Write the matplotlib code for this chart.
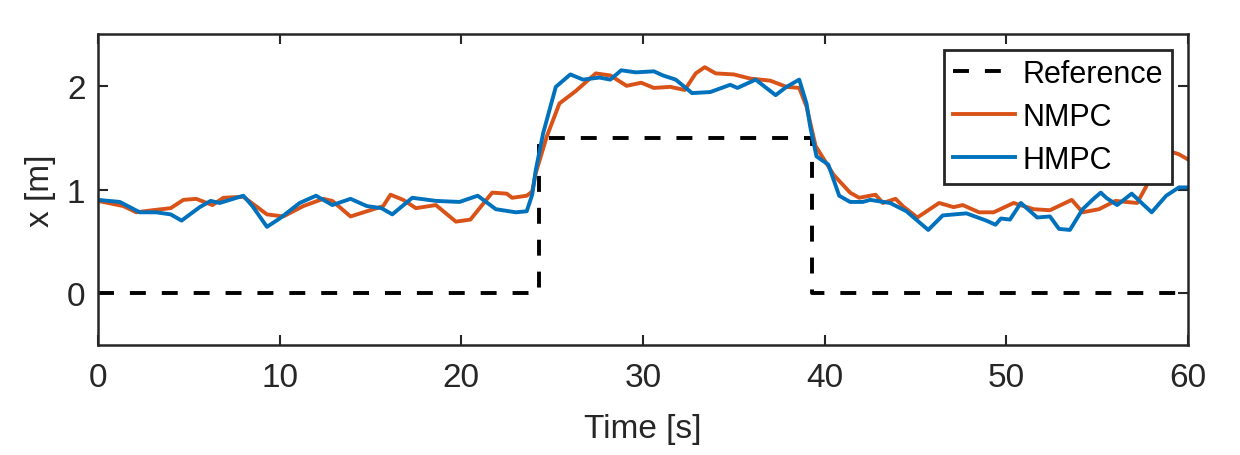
import matplotlib
matplotlib.use("Agg")
import matplotlib.pyplot as plt

# Reference step signal
ref_t = [0, 24.3, 39.3, 60]
ref_x = [0, 1.5, 0, 0]

# NMPC trajectory
nmpc_t = [0, 1.4, 2.1, 3.0, 4.0, 4.7, 5.4, 6.3, 6.9, 8.0, 9.3, 10.2, 11.3, 12.4, 12.9,
          13.9, 14.8, 15.7, 16.1, 16.8, 17.5, 18.6, 19.7, 20.5, 21.7, 22.5, 22.8, 23.6,
          23.9, 24.1, 24.7, 25.4, 26.3, 27.4, 28.2, 29.1, 29.9, 30.6, 31.5, 32.3, 32.9,
          33.4, 34.0, 35.0, 35.9, 37.0, 37.9, 38.6, 39.0, 39.5, 40.0, 40.5, 41.4, 41.9,
          42.8, 43.2, 43.9, 44.3, 45.1, 46.3, 47.1, 47.6, 48.5, 49.3, 50.4, 51.5, 52.4,
          53.6, 54.2, 55.1, 56.0, 57.2, 57.7, 58.3, 58.8, 59.5, 60]
nmpc_x = [0.89, 0.84, 0.78, 0.80, 0.82, 0.90, 0.91, 0.85, 0.92, 0.93, 0.76, 0.74, 0.84,
          0.91, 0.89, 0.74, 0.79, 0.84, 0.95, 0.90, 0.82, 0.85, 0.69, 0.71, 0.97, 0.96,
          0.92, 0.94, 0.98, 1.16, 1.51, 1.83, 1.95, 2.12, 2.10, 2.00, 2.03, 1.98, 1.99,
          1.96, 2.12, 2.18, 2.12, 2.11, 2.07, 2.05, 1.99, 1.98, 1.80, 1.42, 1.28, 1.14,
          0.97, 0.92, 0.95, 0.87, 0.91, 0.84, 0.73, 0.87, 0.83, 0.85, 0.78, 0.78, 0.87,
          0.81, 0.80, 0.90, 0.78, 0.81, 0.89, 0.87, 1.03, 1.29, 1.38, 1.34, 1.29]

# HMPC trajectory
hmpc_t = [0, 1.2, 2.3, 3.2, 4.0, 4.6, 5.6, 6.2, 6.7, 8.0, 8.5, 9.3, 10.0, 11.1, 12.0,
          12.9, 13.9, 14.8, 15.6, 16.2, 17.3, 18.6, 19.9, 20.9, 21.9, 23.0, 23.6, 23.9,
          24.1, 24.5, 25.2, 26.0, 26.7, 27.6, 28.2, 28.8, 29.6, 30.6, 31.1, 31.8, 32.7,
          33.7, 34.8, 35.2, 36.2, 37.3, 37.9, 38.6, 39.0, 39.2, 39.55, 40.2, 40.8, 41.4,
          42.1, 42.5, 43.6, 44.5, 45.7, 46.5, 47.8, 48.9, 49.4, 49.7, 50.2, 50.8, 51.7,
          52.4, 52.9, 53.5, 54.2, 54.8, 55.2, 55.5, 56.1, 56.9, 58.0, 58.8, 59.5, 60]
hmpc_x = [0.90, 0.88, 0.78, 0.78, 0.76, 0.70, 0.83, 0.89, 0.87, 0.94, 0.84, 0.64, 0.72,
          0.87, 0.94, 0.85, 0.91, 0.84, 0.82, 0.76, 0.92, 0.89, 0.88, 0.94, 0.81, 0.78,
          0.79, 0.95, 1.19, 1.54, 1.99, 2.11, 2.06, 2.08, 2.06, 2.15, 2.13, 2.14, 2.10,
          2.06, 1.93, 1.94, 2.01, 1.98, 2.06, 1.91, 1.99, 2.06, 1.83, 1.61, 1.32, 1.24,
          0.94, 0.88, 0.88, 0.90, 0.87, 0.79, 0.61, 0.75, 0.77, 0.70, 0.66, 0.72, 0.71,
          0.87, 0.73, 0.74, 0.62, 0.61, 0.81, 0.91, 0.97, 0.92, 0.85, 0.96, 0.78, 0.94,
          1.02, 1.02]

x_ticks = [0, 10, 20, 30, 40, 50, 60]
y_ticks = [0, 1, 2]

plt.rcParams['font.family'] = ['Liberation Sans', 'DejaVu Sans']
axc = '#262626'

fig = plt.figure(figsize=(12.4, 4.56), dpi=100)
ax = fig.add_axes([98/1240, 1-346/456, 1090/1240, 311/456])

ax.plot(ref_t, ref_x, color='black', lw=2.8, dashes=(4.1, 4.1), drawstyle='steps-post',
        label='Reference', solid_capstyle='butt', dash_capstyle='butt')
ax.plot(nmpc_t, nmpc_x, color='#D95319', lw=2.8, label='NMPC', solid_joinstyle='round')
ax.plot(hmpc_t, hmpc_x, color='#0072BD', lw=2.8, label='HMPC', solid_joinstyle='round')

ax.set_xlim(0, 60)
ax.set_ylim(-0.5, 2.5)
ax.set_xticks(x_ticks)
ax.set_yticks(y_ticks)
ax.tick_params(direction='in', length=7, width=1.5, colors=axc, labelsize=24,
               top=True, right=True)
ax.tick_params(axis='x', pad=12)
ax.tick_params(axis='y', pad=9)
for s in ax.spines.values():
    s.set_linewidth(1.8)
    s.set_color(axc)

ax.set_xlabel('Time [s]', fontsize=24, color=axc, labelpad=15)
ax.set_ylabel('x [m]', fontsize=24, color=axc, labelpad=8)

leg = ax.legend(loc='upper right', fontsize=22, handlelength=2.0, handletextpad=0.26,
                labelspacing=0.42, borderpad=0.3, borderaxespad=0.52, fancybox=False,
                framealpha=1, edgecolor=axc)
leg.get_frame().set_linewidth(2.0)

fig.savefig('out.png', dpi=100)
